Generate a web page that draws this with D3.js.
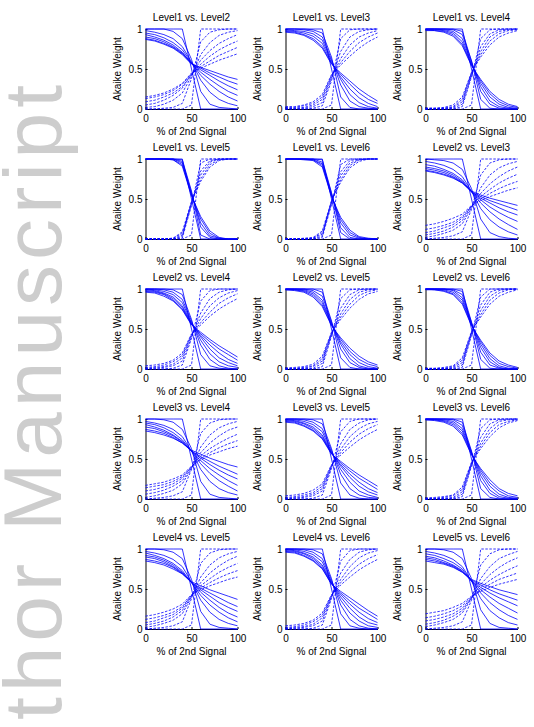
<!DOCTYPE html>
<html>
<head>
<meta charset="utf-8">
<script src="https://cdn.jsdelivr.net/npm/d3@7"></script>
<style>
body { margin: 0; background: #fff; }
svg { display: block; }
</style>
</head>
<body>
<svg id="chart"></svg>
<script>
// % of 2nd signal at which every weight was sampled
const xValues = [0, 10, 20, 30, 40, 50, 60, 70, 80, 90, 100];
const xTicks = [0, 50, 100];
const yTicks = [0, 0.5, 1];

const panelTitles = [
    "Level1 vs. Level2", "Level1 vs. Level3", "Level1 vs. Level4",
    "Level1 vs. Level5", "Level1 vs. Level6", "Level2 vs. Level3",
    "Level2 vs. Level4", "Level2 vs. Level5", "Level2 vs. Level6",
    "Level3 vs. Level4", "Level3 vs. Level5", "Level3 vs. Level6",
    "Level4 vs. Level5", "Level4 vs. Level6", "Level5 vs. Level6"
];

// solid = weight of 1st level, dashed = weight of 2nd level
const solid12 = [
    [1, 1, 1, 1, 1, 0.5, 0, 0, 0, 0, 0],
    [1, 1, 1, 0.97, 0.88, 0.62, 0.22, 0.06, 0.02, 0.01, 0],
    [0.98, 0.96, 0.93, 0.88, 0.78, 0.59, 0.36, 0.21, 0.12, 0.07, 0.04],
    [0.95, 0.93, 0.89, 0.83, 0.74, 0.58, 0.42, 0.31, 0.22, 0.15, 0.1],
    [0.93, 0.9, 0.86, 0.8, 0.71, 0.57, 0.46, 0.37, 0.29, 0.22, 0.17],
    [0.9, 0.88, 0.84, 0.78, 0.7, 0.57, 0.49, 0.42, 0.35, 0.29, 0.24],
    [0.88, 0.86, 0.82, 0.77, 0.69, 0.57, 0.51, 0.45, 0.4, 0.35, 0.31],
    [0.87, 0.85, 0.81, 0.76, 0.68, 0.56, 0.52, 0.48, 0.44, 0.4, 0.37]
];
const dashed12 = [
    [0, 0, 0, 0, 0, 0.05, 1, 1, 1, 1, 1],
    [0, 0, 0.01, 0.02, 0.07, 0.38, 0.84, 0.96, 0.99, 1, 1],
    [0.02, 0.03, 0.06, 0.11, 0.2, 0.41, 0.68, 0.83, 0.92, 0.96, 0.98],
    [0.05, 0.07, 0.11, 0.17, 0.26, 0.43, 0.61, 0.73, 0.82, 0.88, 0.93],
    [0.09, 0.11, 0.15, 0.2, 0.28, 0.43, 0.56, 0.66, 0.74, 0.8, 0.85],
    [0.13, 0.15, 0.18, 0.23, 0.31, 0.44, 0.53, 0.6, 0.67, 0.72, 0.77],
    [0.15, 0.17, 0.2, 0.25, 0.32, 0.45, 0.51, 0.56, 0.61, 0.65, 0.69]
];

const solid13 = [
    [1, 1, 1, 1, 1, 0.5, 0, 0, 0, 0, 0],
    [1, 1, 1, 0.99, 0.95, 0.65, 0.15, 0.02, 0, 0, 0],
    [1, 1, 0.99, 0.97, 0.9, 0.62, 0.3, 0.1, 0.03, 0.01, 0],
    [0.99, 0.98, 0.97, 0.94, 0.86, 0.6, 0.37, 0.18, 0.08, 0.03, 0.01],
    [0.98, 0.97, 0.95, 0.91, 0.82, 0.58, 0.4, 0.25, 0.14, 0.07, 0.03],
    [0.97, 0.96, 0.93, 0.88, 0.78, 0.57, 0.43, 0.31, 0.2, 0.12, 0.07],
    [0.96, 0.95, 0.92, 0.86, 0.76, 0.56, 0.45, 0.35, 0.25, 0.17, 0.1]
];
const dashed13 = [
    [0, 0, 0, 0, 0, 0.05, 1, 1, 1, 1, 1],
    [0, 0, 0, 0.01, 0.04, 0.35, 0.88, 0.99, 1, 1, 1],
    [0, 0.01, 0.01, 0.03, 0.08, 0.38, 0.72, 0.9, 0.97, 0.99, 1],
    [0.01, 0.01, 0.02, 0.05, 0.12, 0.4, 0.63, 0.8, 0.9, 0.95, 0.98],
    [0.02, 0.02, 0.04, 0.07, 0.15, 0.42, 0.58, 0.72, 0.83, 0.9, 0.95],
    [0.03, 0.03, 0.05, 0.09, 0.18, 0.43, 0.55, 0.66, 0.76, 0.84, 0.9]
];

const solid14 = [
    [1, 1, 1, 1, 1, 0.5, 0, 0, 0, 0, 0],
    [1, 1, 1, 1, 0.97, 0.6, 0.12, 0.01, 0, 0, 0],
    [1, 1, 1, 0.99, 0.93, 0.6, 0.22, 0.06, 0.01, 0, 0],
    [1, 1, 0.99, 0.97, 0.88, 0.58, 0.28, 0.1, 0.03, 0.01, 0],
    [0.99, 0.99, 0.98, 0.95, 0.84, 0.56, 0.32, 0.15, 0.06, 0.02, 0.01],
    [0.99, 0.98, 0.97, 0.93, 0.81, 0.55, 0.35, 0.19, 0.09, 0.04, 0.02],
    [0.98, 0.98, 0.96, 0.91, 0.79, 0.54, 0.37, 0.22, 0.12, 0.06, 0.03]
];
const dashed14 = [
    [0, 0, 0, 0, 0, 0.05, 1, 1, 1, 1, 1],
    [0, 0, 0, 0, 0.03, 0.4, 0.88, 0.99, 1, 1, 1],
    [0, 0, 0, 0.01, 0.06, 0.42, 0.78, 0.94, 0.99, 1, 1],
    [0, 0, 0.01, 0.02, 0.09, 0.44, 0.72, 0.9, 0.97, 0.99, 1],
    [0.01, 0.01, 0.01, 0.03, 0.12, 0.45, 0.68, 0.85, 0.94, 0.98, 0.99],
    [0.01, 0.01, 0.02, 0.05, 0.15, 0.46, 0.65, 0.8, 0.9, 0.95, 0.98]
];

const solid15 = [
    [1, 1, 1, 1, 1, 0.5, 0, 0, 0, 0, 0],
    [1, 1, 1, 1, 0.99, 0.6, 0.05, 0, 0, 0, 0],
    [1, 1, 1, 1, 0.97, 0.58, 0.15, 0.02, 0, 0, 0],
    [1, 1, 1, 1, 0.95, 0.56, 0.2, 0.04, 0.01, 0, 0],
    [1, 1, 1, 0.99, 0.93, 0.55, 0.25, 0.07, 0.01, 0, 0],
    [1, 1, 1, 0.99, 0.91, 0.54, 0.28, 0.1, 0.02, 0, 0]
];
const dashed15 = [
    [0, 0, 0, 0, 0, 0.05, 1, 1, 1, 1, 1],
    [0, 0, 0, 0, 0.01, 0.42, 0.95, 1, 1, 1, 1],
    [0, 0, 0, 0, 0.03, 0.44, 0.85, 0.98, 1, 1, 1],
    [0, 0, 0, 0, 0.05, 0.45, 0.8, 0.96, 1, 1, 1],
    [0, 0, 0, 0.01, 0.07, 0.46, 0.75, 0.93, 0.99, 1, 1],
    [0, 0, 0, 0.01, 0.09, 0.47, 0.72, 0.9, 0.98, 1, 1]
];

const solid16 = [
    [1, 1, 1, 1, 1, 0.5, 0, 0, 0, 0, 0],
    [1, 1, 1, 1, 0.99, 0.58, 0.08, 0, 0, 0, 0],
    [1, 1, 1, 1, 0.96, 0.57, 0.14, 0.02, 0, 0, 0],
    [1, 1, 1, 0.99, 0.94, 0.55, 0.2, 0.05, 0.01, 0, 0],
    [1, 1, 1, 0.99, 0.92, 0.54, 0.24, 0.08, 0.02, 0, 0],
    [1, 1, 0.99, 0.98, 0.9, 0.53, 0.27, 0.11, 0.03, 0.01, 0]
];
const dashed16 = [
    [0, 0, 0, 0, 0, 0.05, 1, 1, 1, 1, 1],
    [0, 0, 0, 0, 0.02, 0.43, 0.93, 1, 1, 1, 1],
    [0, 0, 0, 0, 0.04, 0.45, 0.84, 0.98, 1, 1, 1],
    [0, 0, 0, 0.01, 0.06, 0.46, 0.79, 0.95, 0.99, 1, 1],
    [0, 0, 0, 0.01, 0.08, 0.47, 0.74, 0.92, 0.99, 1, 1],
    [0, 0, 0.01, 0.02, 0.1, 0.48, 0.71, 0.89, 0.97, 1, 1]
];

const solid23 = [
    [1, 1, 1, 1, 1, 0.5, 0, 0, 0, 0, 0],
    [1, 0.99, 0.98, 0.95, 0.87, 0.63, 0.25, 0.08, 0.03, 0.01, 0],
    [0.97, 0.95, 0.92, 0.87, 0.78, 0.6, 0.38, 0.24, 0.15, 0.09, 0.05],
    [0.93, 0.91, 0.87, 0.82, 0.74, 0.59, 0.45, 0.34, 0.25, 0.18, 0.12],
    [0.9, 0.88, 0.85, 0.8, 0.72, 0.59, 0.49, 0.4, 0.33, 0.27, 0.22],
    [0.88, 0.86, 0.83, 0.78, 0.71, 0.59, 0.51, 0.45, 0.39, 0.34, 0.3],
    [0.86, 0.84, 0.81, 0.77, 0.7, 0.59, 0.53, 0.48, 0.44, 0.4, 0.36],
    [0.85, 0.83, 0.8, 0.76, 0.7, 0.6, 0.55, 0.51, 0.48, 0.45, 0.42]
];
const dashed23 = [
    [0, 0, 0, 0, 0, 0.05, 1, 1, 1, 1, 1],
    [0, 0.01, 0.02, 0.04, 0.09, 0.37, 0.8, 0.95, 0.99, 1, 1],
    [0.02, 0.04, 0.07, 0.11, 0.19, 0.39, 0.64, 0.8, 0.89, 0.94, 0.97],
    [0.05, 0.07, 0.1, 0.15, 0.23, 0.4, 0.57, 0.69, 0.78, 0.85, 0.9],
    [0.08, 0.1, 0.14, 0.18, 0.26, 0.41, 0.53, 0.62, 0.7, 0.76, 0.81],
    [0.12, 0.14, 0.17, 0.21, 0.28, 0.41, 0.5, 0.57, 0.63, 0.68, 0.72],
    [0.17, 0.19, 0.22, 0.26, 0.31, 0.42, 0.48, 0.53, 0.57, 0.61, 0.64]
];

const solid24 = [
    [1, 1, 1, 1, 1, 0.5, 0, 0, 0, 0, 0],
    [1, 1, 1, 0.99, 0.93, 0.62, 0.18, 0.04, 0.01, 0, 0],
    [1, 1, 0.99, 0.96, 0.87, 0.6, 0.3, 0.12, 0.04, 0.01, 0],
    [1, 0.99, 0.97, 0.93, 0.83, 0.58, 0.36, 0.19, 0.09, 0.04, 0.02],
    [0.99, 0.98, 0.95, 0.9, 0.79, 0.57, 0.4, 0.25, 0.14, 0.08, 0.04],
    [0.98, 0.97, 0.94, 0.88, 0.77, 0.56, 0.42, 0.3, 0.2, 0.12, 0.07],
    [0.97, 0.96, 0.93, 0.86, 0.75, 0.56, 0.44, 0.34, 0.25, 0.18, 0.11],
    [0.96, 0.95, 0.91, 0.85, 0.74, 0.55, 0.46, 0.37, 0.29, 0.22, 0.15]
];
const dashed24 = [
    [0, 0, 0, 0, 0, 0.05, 1, 1, 1, 1, 1],
    [0, 0, 0, 0.01, 0.05, 0.38, 0.85, 0.98, 1, 1, 1],
    [0, 0.01, 0.02, 0.04, 0.1, 0.4, 0.7, 0.88, 0.96, 0.99, 1],
    [0.01, 0.02, 0.03, 0.06, 0.14, 0.42, 0.63, 0.79, 0.89, 0.95, 0.98],
    [0.02, 0.03, 0.05, 0.09, 0.17, 0.43, 0.58, 0.71, 0.82, 0.89, 0.94],
    [0.04, 0.05, 0.07, 0.11, 0.2, 0.44, 0.55, 0.66, 0.75, 0.82, 0.88]
];

const solid25 = [
    [1, 1, 1, 1, 1, 0.5, 0, 0, 0, 0, 0],
    [1, 1, 1, 1, 0.96, 0.6, 0.14, 0.02, 0, 0, 0],
    [1, 1, 1, 0.98, 0.91, 0.59, 0.25, 0.08, 0.02, 0, 0],
    [1, 1, 0.99, 0.96, 0.86, 0.57, 0.31, 0.13, 0.04, 0.01, 0],
    [1, 0.99, 0.98, 0.94, 0.83, 0.56, 0.34, 0.18, 0.08, 0.03, 0.01],
    [0.99, 0.99, 0.97, 0.92, 0.8, 0.55, 0.37, 0.22, 0.12, 0.06, 0.03],
    [0.99, 0.98, 0.96, 0.9, 0.78, 0.54, 0.39, 0.26, 0.16, 0.09, 0.05]
];
const dashed25 = [
    [0, 0, 0, 0, 0, 0.05, 1, 1, 1, 1, 1],
    [0, 0, 0, 0, 0.03, 0.41, 0.88, 0.99, 1, 1, 1],
    [0, 0, 0, 0.01, 0.07, 0.43, 0.76, 0.93, 0.99, 1, 1],
    [0, 0, 0.01, 0.03, 0.1, 0.44, 0.69, 0.87, 0.96, 0.99, 1],
    [0.01, 0.01, 0.02, 0.04, 0.13, 0.45, 0.65, 0.81, 0.92, 0.97, 0.99],
    [0.01, 0.02, 0.03, 0.06, 0.16, 0.46, 0.62, 0.76, 0.87, 0.94, 0.97]
];

const solid26 = [
    [1, 1, 1, 1, 1, 0.5, 0, 0, 0, 0, 0],
    [1, 1, 1, 1, 0.97, 0.59, 0.12, 0.01, 0, 0, 0],
    [1, 1, 1, 0.99, 0.93, 0.58, 0.21, 0.05, 0.01, 0, 0],
    [1, 1, 1, 0.98, 0.89, 0.57, 0.27, 0.09, 0.02, 0, 0],
    [1, 1, 0.99, 0.96, 0.86, 0.56, 0.31, 0.13, 0.04, 0.01, 0],
    [1, 0.99, 0.98, 0.94, 0.83, 0.55, 0.34, 0.17, 0.07, 0.03, 0.01],
    [0.99, 0.99, 0.97, 0.93, 0.81, 0.54, 0.36, 0.2, 0.1, 0.05, 0.02]
];
const dashed26 = [
    [0, 0, 0, 0, 0, 0.05, 1, 1, 1, 1, 1],
    [0, 0, 0, 0, 0.02, 0.42, 0.9, 1, 1, 1, 1],
    [0, 0, 0, 0.01, 0.05, 0.44, 0.8, 0.96, 1, 1, 1],
    [0, 0, 0, 0.02, 0.08, 0.45, 0.73, 0.91, 0.98, 1, 1],
    [0, 0, 0.01, 0.03, 0.11, 0.46, 0.68, 0.86, 0.95, 0.99, 1],
    [0.01, 0.01, 0.02, 0.04, 0.14, 0.47, 0.65, 0.81, 0.91, 0.96, 0.99]
];

const solid34 = [
    [1, 1, 1, 1, 1, 0.5, 0, 0, 0, 0, 0],
    [1, 1, 0.99, 0.96, 0.87, 0.63, 0.22, 0.06, 0.02, 0.01, 0],
    [0.97, 0.95, 0.92, 0.87, 0.78, 0.6, 0.37, 0.22, 0.13, 0.08, 0.05],
    [0.95, 0.93, 0.89, 0.83, 0.74, 0.6, 0.44, 0.32, 0.23, 0.16, 0.1],
    [0.93, 0.9, 0.86, 0.8, 0.72, 0.6, 0.48, 0.38, 0.3, 0.23, 0.17],
    [0.9, 0.88, 0.84, 0.79, 0.71, 0.6, 0.51, 0.43, 0.36, 0.3, 0.25],
    [0.87, 0.85, 0.82, 0.77, 0.7, 0.6, 0.53, 0.47, 0.41, 0.36, 0.31],
    [0.85, 0.83, 0.8, 0.76, 0.7, 0.61, 0.56, 0.51, 0.47, 0.43, 0.4]
];
const dashed34 = [
    [0, 0, 0, 0, 0, 0.05, 1, 1, 1, 1, 1],
    [0, 0.01, 0.02, 0.04, 0.09, 0.37, 0.82, 0.95, 0.99, 1, 1],
    [0.02, 0.04, 0.07, 0.11, 0.19, 0.38, 0.65, 0.8, 0.89, 0.94, 0.97],
    [0.06, 0.08, 0.11, 0.16, 0.23, 0.39, 0.58, 0.7, 0.79, 0.86, 0.9],
    [0.1, 0.12, 0.15, 0.19, 0.26, 0.4, 0.54, 0.63, 0.7, 0.76, 0.81],
    [0.14, 0.16, 0.18, 0.22, 0.28, 0.4, 0.51, 0.58, 0.64, 0.69, 0.73],
    [0.17, 0.19, 0.21, 0.25, 0.3, 0.41, 0.49, 0.55, 0.59, 0.63, 0.66]
];

const solid35 = [
    [1, 1, 1, 1, 1, 0.5, 0, 0, 0, 0, 0],
    [1, 1, 1, 0.99, 0.94, 0.63, 0.2, 0.05, 0.01, 0, 0],
    [1, 1, 0.99, 0.96, 0.88, 0.61, 0.31, 0.13, 0.05, 0.02, 0.01],
    [0.99, 0.99, 0.97, 0.93, 0.84, 0.59, 0.37, 0.21, 0.1, 0.05, 0.02],
    [0.99, 0.98, 0.95, 0.9, 0.8, 0.58, 0.41, 0.27, 0.16, 0.09, 0.05],
    [0.98, 0.97, 0.94, 0.88, 0.78, 0.57, 0.43, 0.31, 0.21, 0.13, 0.08],
    [0.97, 0.96, 0.92, 0.86, 0.76, 0.57, 0.45, 0.35, 0.26, 0.19, 0.12],
    [0.96, 0.95, 0.91, 0.85, 0.75, 0.56, 0.47, 0.38, 0.3, 0.23, 0.16]
];
const dashed35 = [
    [0, 0, 0, 0, 0, 0.05, 1, 1, 1, 1, 1],
    [0, 0, 0, 0.01, 0.05, 0.38, 0.84, 0.97, 1, 1, 1],
    [0, 0.01, 0.02, 0.04, 0.1, 0.4, 0.69, 0.87, 0.95, 0.99, 1],
    [0.01, 0.02, 0.03, 0.06, 0.13, 0.41, 0.62, 0.78, 0.88, 0.94, 0.97],
    [0.02, 0.03, 0.05, 0.08, 0.16, 0.42, 0.58, 0.71, 0.81, 0.88, 0.93],
    [0.04, 0.05, 0.07, 0.11, 0.19, 0.43, 0.55, 0.65, 0.74, 0.81, 0.87]
];

const solid36 = [
    [1, 1, 1, 1, 1, 0.5, 0, 0, 0, 0, 0],
    [1, 1, 1, 1, 0.96, 0.6, 0.13, 0.02, 0, 0, 0],
    [1, 1, 1, 0.99, 0.92, 0.59, 0.23, 0.07, 0.01, 0, 0],
    [1, 1, 0.99, 0.97, 0.88, 0.58, 0.29, 0.11, 0.03, 0.01, 0],
    [1, 0.99, 0.98, 0.95, 0.85, 0.57, 0.33, 0.16, 0.06, 0.02, 0.01],
    [0.99, 0.99, 0.97, 0.93, 0.82, 0.56, 0.36, 0.2, 0.1, 0.04, 0.02],
    [0.99, 0.98, 0.96, 0.91, 0.8, 0.55, 0.38, 0.24, 0.13, 0.07, 0.04]
];
const dashed36 = [
    [0, 0, 0, 0, 0, 0.05, 1, 1, 1, 1, 1],
    [0, 0, 0, 0, 0.03, 0.41, 0.88, 0.99, 1, 1, 1],
    [0, 0, 0, 0.01, 0.06, 0.43, 0.77, 0.94, 0.99, 1, 1],
    [0, 0, 0.01, 0.02, 0.09, 0.44, 0.7, 0.88, 0.97, 0.99, 1],
    [0.01, 0.01, 0.02, 0.04, 0.12, 0.45, 0.66, 0.83, 0.93, 0.97, 0.99],
    [0.01, 0.02, 0.03, 0.05, 0.15, 0.46, 0.63, 0.78, 0.89, 0.95, 0.98]
];

const solid45 = [
    [1, 1, 1, 1, 1, 0.5, 0, 0, 0, 0, 0],
    [1, 1, 0.99, 0.96, 0.88, 0.62, 0.22, 0.06, 0.02, 0.01, 0],
    [0.97, 0.95, 0.92, 0.87, 0.78, 0.59, 0.36, 0.21, 0.12, 0.07, 0.04],
    [0.95, 0.92, 0.88, 0.82, 0.73, 0.58, 0.42, 0.3, 0.21, 0.14, 0.09],
    [0.92, 0.9, 0.86, 0.8, 0.71, 0.58, 0.46, 0.36, 0.27, 0.2, 0.15],
    [0.9, 0.88, 0.84, 0.78, 0.7, 0.58, 0.49, 0.41, 0.33, 0.27, 0.22],
    [0.87, 0.85, 0.82, 0.77, 0.69, 0.58, 0.51, 0.45, 0.39, 0.33, 0.28],
    [0.85, 0.83, 0.8, 0.75, 0.69, 0.59, 0.54, 0.49, 0.45, 0.41, 0.37]
];
const dashed45 = [
    [0, 0, 0, 0, 0, 0.05, 1, 1, 1, 1, 1],
    [0, 0.01, 0.02, 0.04, 0.09, 0.38, 0.82, 0.95, 0.99, 1, 1],
    [0.02, 0.04, 0.07, 0.11, 0.19, 0.4, 0.65, 0.8, 0.89, 0.94, 0.97],
    [0.05, 0.07, 0.1, 0.15, 0.23, 0.41, 0.58, 0.7, 0.79, 0.86, 0.91],
    [0.08, 0.1, 0.14, 0.18, 0.26, 0.42, 0.54, 0.63, 0.71, 0.77, 0.82],
    [0.12, 0.14, 0.17, 0.21, 0.28, 0.42, 0.51, 0.58, 0.64, 0.69, 0.73],
    [0.16, 0.18, 0.21, 0.25, 0.31, 0.43, 0.49, 0.54, 0.58, 0.62, 0.65]
];

const solid46 = [
    [1, 1, 1, 1, 1, 0.5, 0, 0, 0, 0, 0],
    [1, 1, 1, 0.99, 0.94, 0.63, 0.19, 0.04, 0.01, 0, 0],
    [1, 1, 0.99, 0.96, 0.88, 0.61, 0.3, 0.12, 0.04, 0.01, 0],
    [1, 0.99, 0.97, 0.93, 0.84, 0.59, 0.36, 0.2, 0.1, 0.04, 0.02],
    [0.99, 0.98, 0.95, 0.9, 0.8, 0.58, 0.4, 0.26, 0.15, 0.08, 0.05],
    [0.98, 0.97, 0.94, 0.88, 0.78, 0.57, 0.43, 0.31, 0.21, 0.13, 0.08],
    [0.97, 0.96, 0.92, 0.86, 0.76, 0.56, 0.45, 0.35, 0.26, 0.19, 0.12],
    [0.96, 0.95, 0.91, 0.85, 0.75, 0.56, 0.47, 0.39, 0.31, 0.23, 0.16]
];
const dashed46 = [
    [0, 0, 0, 0, 0, 0.05, 1, 1, 1, 1, 1],
    [0, 0, 0, 0.01, 0.05, 0.38, 0.85, 0.98, 1, 1, 1],
    [0, 0.01, 0.02, 0.04, 0.1, 0.4, 0.7, 0.87, 0.96, 0.99, 1],
    [0.01, 0.02, 0.03, 0.06, 0.14, 0.41, 0.62, 0.78, 0.89, 0.95, 0.98],
    [0.02, 0.03, 0.05, 0.09, 0.17, 0.42, 0.58, 0.71, 0.81, 0.88, 0.93],
    [0.04, 0.05, 0.07, 0.11, 0.2, 0.43, 0.55, 0.65, 0.74, 0.81, 0.87]
];

const solid56 = [
    [1, 1, 1, 1, 1, 0.5, 0, 0, 0, 0, 0],
    [1, 1, 0.99, 0.96, 0.88, 0.63, 0.24, 0.07, 0.02, 0.01, 0],
    [0.97, 0.95, 0.92, 0.87, 0.78, 0.6, 0.38, 0.23, 0.14, 0.08, 0.05],
    [0.94, 0.92, 0.88, 0.83, 0.75, 0.6, 0.45, 0.33, 0.24, 0.17, 0.12],
    [0.91, 0.89, 0.85, 0.8, 0.73, 0.6, 0.49, 0.4, 0.32, 0.26, 0.2],
    [0.89, 0.87, 0.83, 0.79, 0.72, 0.6, 0.52, 0.45, 0.39, 0.34, 0.29],
    [0.87, 0.85, 0.82, 0.78, 0.71, 0.61, 0.55, 0.49, 0.44, 0.4, 0.36],
    [0.85, 0.83, 0.81, 0.77, 0.71, 0.62, 0.57, 0.53, 0.49, 0.46, 0.43]
];
const dashed56 = [
    [0, 0, 0, 0, 0, 0.05, 1, 1, 1, 1, 1],
    [0, 0.01, 0.02, 0.04, 0.09, 0.36, 0.8, 0.94, 0.99, 1, 1],
    [0.03, 0.05, 0.08, 0.12, 0.2, 0.38, 0.63, 0.78, 0.88, 0.93, 0.97],
    [0.06, 0.08, 0.11, 0.16, 0.23, 0.39, 0.56, 0.68, 0.77, 0.84, 0.89],
    [0.1, 0.12, 0.15, 0.19, 0.26, 0.39, 0.52, 0.61, 0.68, 0.74, 0.79],
    [0.14, 0.16, 0.19, 0.23, 0.29, 0.4, 0.49, 0.56, 0.62, 0.66, 0.7],
    [0.19, 0.21, 0.23, 0.27, 0.32, 0.41, 0.47, 0.52, 0.56, 0.59, 0.62]
];

const solidSets = [solid12, solid13, solid14, solid15, solid16, solid23, solid24, solid25,
    solid26, solid34, solid35, solid36, solid45, solid46, solid56];
const dashedSets = [dashed12, dashed13, dashed14, dashed15, dashed16, dashed23, dashed24, dashed25,
    dashed26, dashed34, dashed35, dashed36, dashed45, dashed46, dashed56];

const font = '"Liberation Sans", Arial, sans-serif';
const svg = d3.select('svg')
    .attr('width', 534)
    .attr('height', 727);

// grey "Author Manuscript" watermark running up the left edge
svg.append('text')
    .text('Author Manuscript')
    .attr('transform', 'translate(61, 80) rotate(-90)')
    .attr('text-anchor', 'end')
    .attr('font-family', font)
    .attr('font-size', 82)
    .attr('letter-spacing', 5)
    .attr('fill', '#cdcdcd');

const plotW = 92, plotH = 80;
const x = d3.scaleLinear().domain([0, 100]).range([0, plotW]);
const y = d3.scaleLinear().domain([0, 1]).range([plotH, 0]);
const line = d3.line()
    .x((d, i) => x(xValues[i]))
    .y(d => y(d));

panelTitles.forEach((title, i) => {
    const col = i % 3;
    const row = Math.floor(i / 3);
    const g = svg.append('g')
        .attr('transform', `translate(${145.5 + col * 140}, ${29 + row * 130})`);

    const xAxis = g.append('g')
        .attr('transform', `translate(0, ${plotH})`)
        .call(d3.axisBottom(x).tickValues(xTicks).tickSize(-2).tickSizeOuter(0).tickPadding(6));
    const yAxis = g.append('g')
        .call(d3.axisLeft(y).tickValues(yTicks).tickSize(-2).tickSizeOuter(0).tickPadding(3)
            .tickFormat(d => String(d)));
    [xAxis, yAxis].forEach(a => a.attr('font-family', font).attr('font-size', 10));

    g.selectAll('path.solid')
        .data(solidSets[i])
        .enter().append('path')
        .attr('class', 'solid')
        .attr('d', line)
        .attr('fill', 'none')
        .attr('stroke', '#0000ff')
        .attr('stroke-width', 0.8);

    g.selectAll('path.dashed')
        .data(dashedSets[i])
        .enter().append('path')
        .attr('class', 'dashed')
        .attr('d', line)
        .attr('fill', 'none')
        .attr('stroke', '#0000ff')
        .attr('stroke-width', 0.8)
        .attr('stroke-dasharray', '2.5,1.5');

    g.append('text')
        .text(title)
        .attr('x', plotW / 2)
        .attr('y', -8)
        .attr('text-anchor', 'middle')
        .attr('font-family', font)
        .attr('font-size', 10);

    g.append('text')
        .text('% of 2nd Signal')
        .attr('x', plotW / 2)
        .attr('y', plotH + 26)
        .attr('text-anchor', 'middle')
        .attr('font-family', font)
        .attr('font-size', 10);

    g.append('text')
        .text('Akaike Weight')
        .attr('transform', `translate(-25, ${plotH / 2}) rotate(-90)`)
        .attr('text-anchor', 'middle')
        .attr('font-family', font)
        .attr('font-size', 10);
});
</script>
</body>
</html>
